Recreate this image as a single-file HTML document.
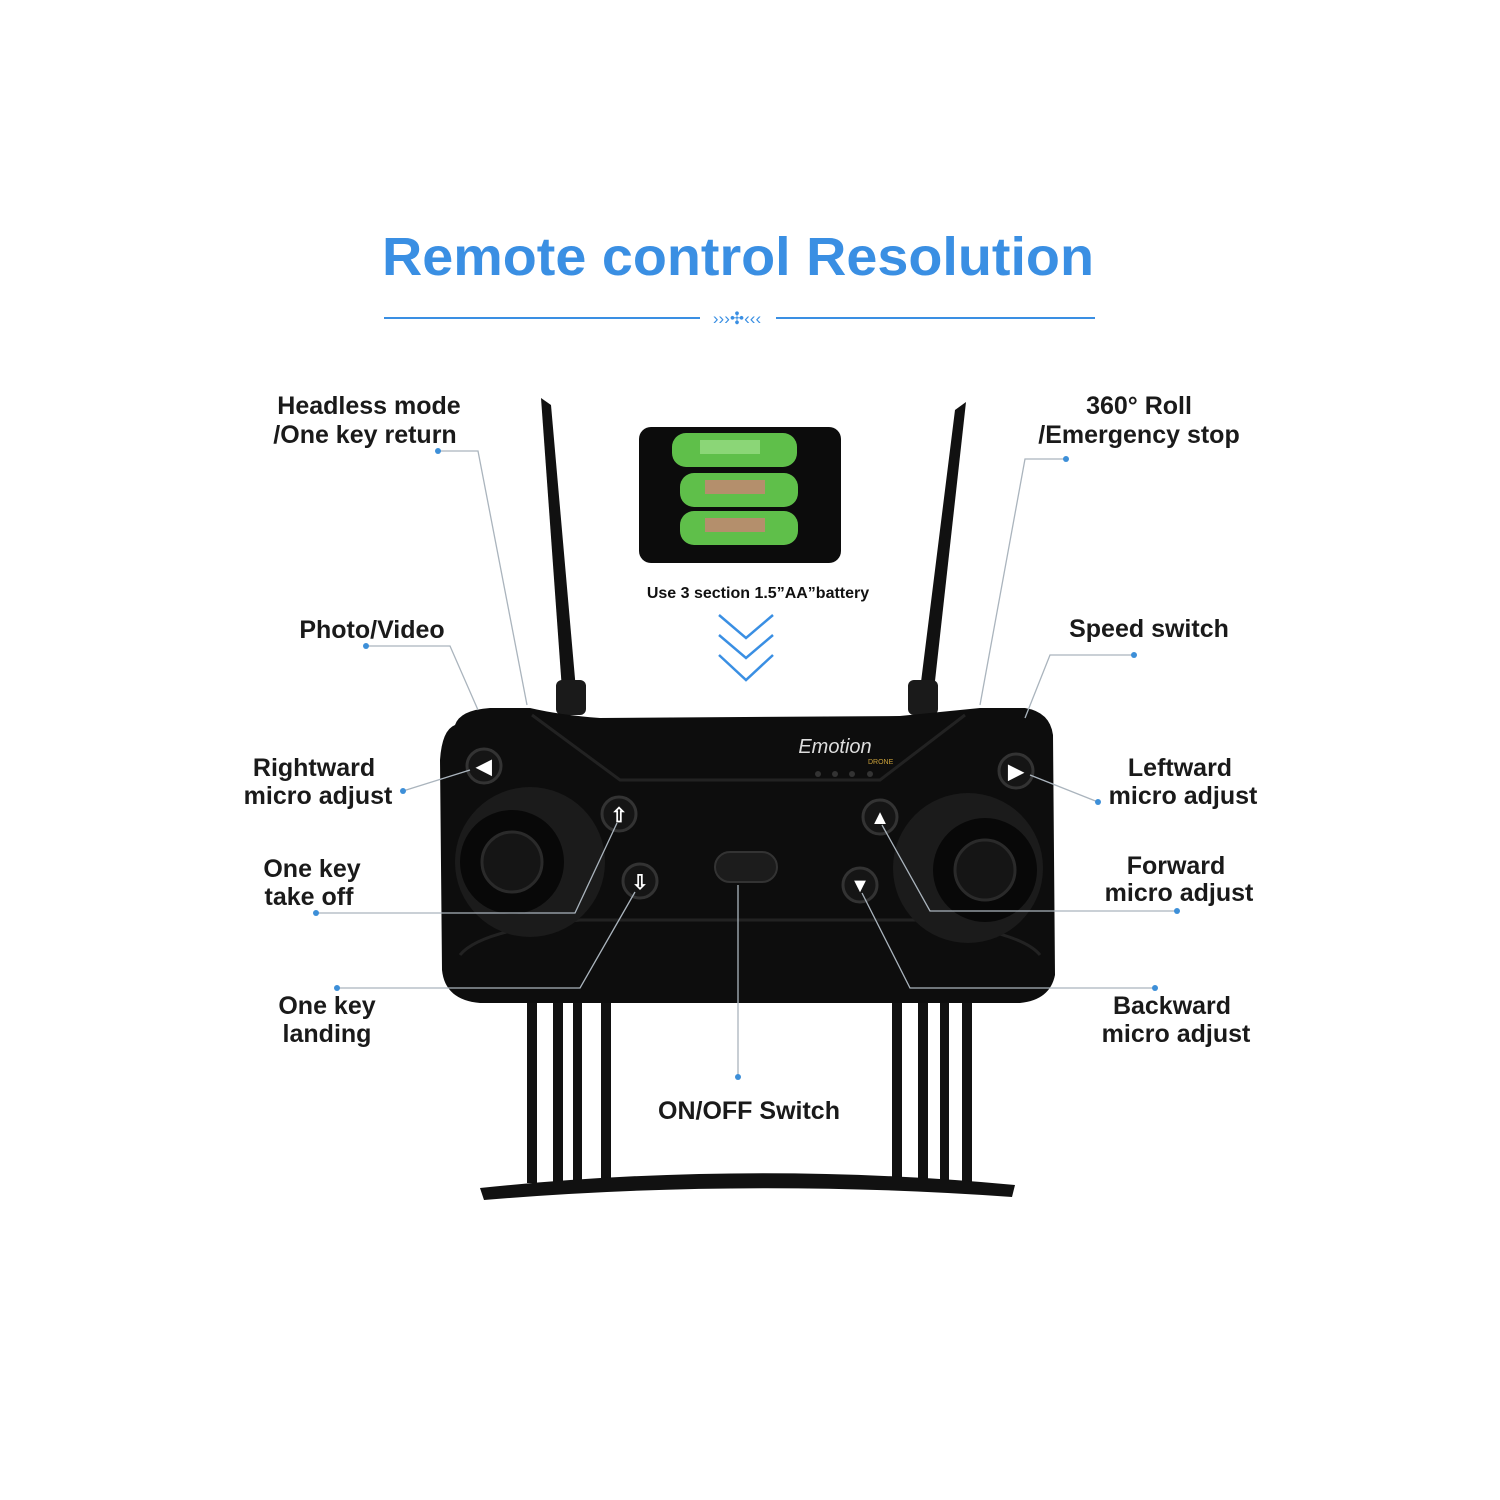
<!DOCTYPE html>
<html><head><meta charset="utf-8"><style>
html,body{margin:0;padding:0;background:#fff;}
svg{display:block}
text{font-family:"Liberation Sans",sans-serif;}
.l{font-size:25px;font-weight:bold;fill:#1a1a1a;}
.ln{stroke:#aab4bd;stroke-width:1.3;fill:none}
.d{fill:#3d8fd8}
</style></head><body>
<svg width="1500" height="1500" viewBox="0 0 1500 1500" xmlns="http://www.w3.org/2000/svg">
<text x="738" y="275" text-anchor="middle" font-size="54" font-weight="bold" fill="#3a8fe3" textLength="712" lengthAdjust="spacingAndGlyphs">Remote control Resolution</text>
<line x1="384" y1="318" x2="700" y2="318" stroke="#3a8fe3" stroke-width="2"/>
<line x1="776" y1="318" x2="1095" y2="318" stroke="#3a8fe3" stroke-width="2"/>
<text x="737" y="324" text-anchor="middle" font-size="17" fill="#3a8fe3">›››✣‹‹‹</text>

<!-- antennas -->
<polygon points="541,398 551,405 576,690 562,690" fill="#111"/>
<rect x="556" y="680" width="30" height="35" rx="6" fill="#1a1a1a"/>
<polygon points="966,402 955,410 920,690 934,690" fill="#111"/>
<rect x="908" y="680" width="30" height="35" rx="6" fill="#1a1a1a"/>

<!-- battery -->
<rect x="639" y="427" width="202" height="136" rx="12" fill="#0c0c0c"/>
<rect x="672" y="433" width="125" height="34" rx="14" fill="#5fbf4a"/>
<rect x="680" y="473" width="118" height="34" rx="14" fill="#5fbf4a"/>
<rect x="680" y="511" width="118" height="34" rx="14" fill="#5fbf4a"/>
<rect x="700" y="440" width="60" height="14" fill="#9ee08a" opacity=".7"/>
<rect x="705" y="480" width="60" height="14" fill="#d87a7a" opacity=".7"/>
<rect x="705" y="518" width="60" height="14" fill="#d87a7a" opacity=".7"/>
<text x="758" y="598" text-anchor="middle" font-size="16" font-weight="bold" fill="#111">Use 3 section 1.5”AA”battery</text>
<path d="M719 615 L746 638 L773 615 M719 635 L746 658 L773 635 M719 655 L746 680 L773 655" stroke="#3a8fe3" stroke-width="2.5" fill="none"/>

<!-- legs -->
<g fill="#111">
<rect x="527" y="1003" width="10" height="180"/><rect x="553" y="1003" width="10" height="180"/>
<rect x="573" y="1003" width="9" height="180"/><rect x="601" y="1003" width="10" height="180"/>
<rect x="892" y="1003" width="10" height="180"/><rect x="918" y="1003" width="10" height="180"/>
<rect x="940" y="1003" width="9" height="180"/><rect x="962" y="1003" width="10" height="180"/>
</g>
<path d="M480 1188 Q748 1160 1015 1185 L1012 1197 Q748 1178 484 1200 Z" fill="#111"/>

<!-- body -->
<path d="M455 725 Q460 710 490 708 L530 708 Q560 715 600 718 L900 716 Q940 712 980 708 L1025 708 Q1050 712 1053 735 L1055 975 Q1050 1000 1020 1003 L480 1003 Q445 1000 442 970 L440 760 Q442 730 455 725 Z" fill="#0d0d0d"/>
<path d="M532 715 L620 780 L880 780 L965 715" stroke="#222" stroke-width="3" fill="none"/>
<path d="M460 955 Q480 930 580 920 L915 920 Q1020 930 1040 955" stroke="#222" stroke-width="3" fill="none"/>
<circle cx="530" cy="862" r="75" fill="#1b1b1b"/>
<circle cx="512" cy="862" r="52" fill="#080808"/>
<circle cx="512" cy="862" r="30" fill="#151515" stroke="#2a2a2a" stroke-width="3"/>
<circle cx="968" cy="868" r="75" fill="#1b1b1b"/>
<circle cx="985" cy="870" r="52" fill="#080808"/>
<circle cx="985" cy="870" r="30" fill="#151515" stroke="#2a2a2a" stroke-width="3"/>
<g fill="#151515" stroke="#333" stroke-width="3">
<circle cx="484" cy="766" r="17"/><circle cx="1016" cy="771" r="17"/>
<circle cx="619" cy="814" r="17"/><circle cx="640" cy="881" r="17"/>
<circle cx="880" cy="817" r="17"/><circle cx="860" cy="885" r="17"/>
</g>
<g fill="#fff" font-size="20" text-anchor="middle" font-weight="bold">
<text x="484" y="773">◀</text><text x="1016" y="778">▶</text>
<text x="619" y="822">⇧</text><text x="640" y="889">⇩</text>
<text x="880" y="824">▲</text><text x="860" y="892">▼</text>
</g>
<rect x="715" y="852" width="62" height="30" rx="15" fill="#1c1c1c" stroke="#333" stroke-width="2"/>
<text x="835" y="753" text-anchor="middle" font-size="20" font-style="italic" fill="#ddd" font-family="Liberation Serif">Emotion</text>
<text x="868" y="764" font-size="7" fill="#c9a03a">DRONE</text>
<g fill="#333"><circle cx="818" cy="774" r="3"/><circle cx="835" cy="774" r="3"/><circle cx="852" cy="774" r="3"/><circle cx="870" cy="774" r="3"/></g>

<!-- leader lines -->
<g class="ln">
<polyline points="438,451 478,451 527,705"/>
<polyline points="366,646 450,646 478,710"/>
<polyline points="403,791 470,770"/>
<polyline points="316,913 575,913 617,823"/>
<polyline points="337,988 580,988 635,892"/>
<polyline points="738,1075 738,885"/>
<polyline points="1066,459 1025,459 980,705"/>
<polyline points="1134,655 1050,655 1025,718"/>
<polyline points="1098,802 1030,775"/>
<polyline points="1177,911 930,911 882,825"/>
<polyline points="1155,988 910,988 862,893"/>
</g>
<g class="d">
<circle cx="438" cy="451" r="3"/><circle cx="366" cy="646" r="3"/><circle cx="403" cy="791" r="3"/>
<circle cx="316" cy="913" r="3"/><circle cx="337" cy="988" r="3"/><circle cx="738" cy="1077" r="3"/>
<circle cx="1066" cy="459" r="3"/><circle cx="1134" cy="655" r="3"/><circle cx="1098" cy="802" r="3"/>
<circle cx="1177" cy="911" r="3"/><circle cx="1155" cy="988" r="3"/>
</g>

<!-- labels -->
<text class="l" x="369" y="414" text-anchor="middle">Headless mode</text>
<text class="l" x="365" y="443" text-anchor="middle">/One key return</text>
<text class="l" x="372" y="638" text-anchor="middle">Photo/Video</text>
<text class="l" x="314" y="776" text-anchor="middle">Rightward</text>
<text class="l" x="318" y="804" text-anchor="middle">micro adjust</text>
<text class="l" x="312" y="877" text-anchor="middle">One key</text>
<text class="l" x="309" y="905" text-anchor="middle">take off</text>
<text class="l" x="327" y="1014" text-anchor="middle">One key</text>
<text class="l" x="327" y="1042" text-anchor="middle">landing</text>
<text class="l" x="749" y="1119" text-anchor="middle">ON/OFF Switch</text>
<text class="l" x="1139" y="414" text-anchor="middle">360° Roll</text>
<text class="l" x="1139" y="443" text-anchor="middle">/Emergency stop</text>
<text class="l" x="1149" y="637" text-anchor="middle">Speed switch</text>
<text class="l" x="1180" y="776" text-anchor="middle">Leftward</text>
<text class="l" x="1183" y="804" text-anchor="middle">micro adjust</text>
<text class="l" x="1176" y="874" text-anchor="middle">Forward</text>
<text class="l" x="1179" y="901" text-anchor="middle">micro adjust</text>
<text class="l" x="1172" y="1014" text-anchor="middle">Backward</text>
<text class="l" x="1176" y="1042" text-anchor="middle">micro adjust</text>
</svg>
</body></html>
